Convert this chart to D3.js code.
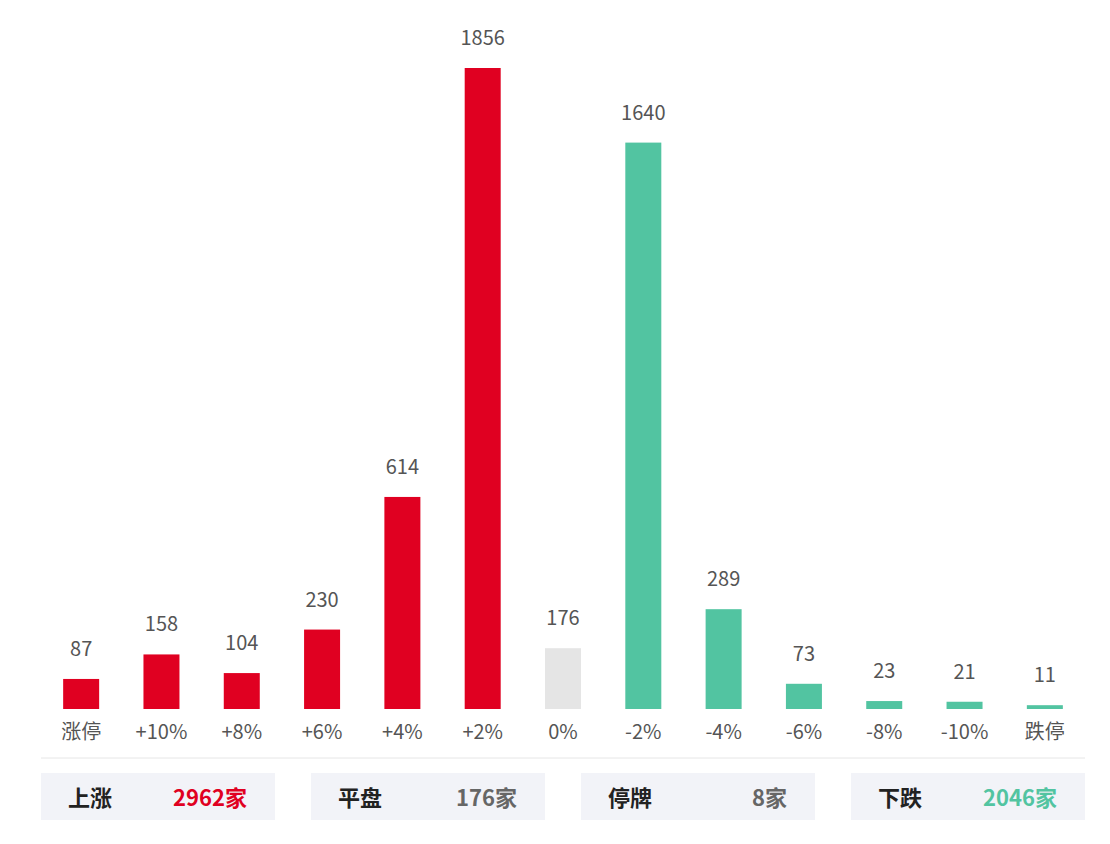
<!DOCTYPE html>
<html><head><meta charset="utf-8">
<script src="https://cdn.jsdelivr.net/npm/d3@7"></script>
<style>body{margin:0;background:#fff;font-family:"Noto Sans CJK SC","Noto Sans",sans-serif;}</style>
</head><body>
<svg id="chart" width="1110" height="844"></svg>
<script>
const categories = ["涨停", "+10%", "+8%", "+6%", "+4%", "+2%", "0%", "-2%", "-4%", "-6%", "-8%", "-10%", "跌停"];
const counts = [87, 158, 104, 230, 614, 1856, 176, 1640, 289, 73, 23, 21, 11];
const summaryLabels = ["上涨", "平盘", "停牌", "下跌"];
const summaryValues = ["2962家", "176家", "8家", "2046家"];

const red = "#e00021", green = "#52c4a1", grey = "#e5e5e5";
const summaryColors = [red, "#666", "#666", green];
const barColor = (i) => (i < 6 ? red : i === 6 ? grey : green);

const svg = d3.select("#chart");
const baseline = 709;

const x = d3.scalePoint().domain(categories).range([41, 1085]).padding(0.5);
const y = d3.scaleLinear().domain([0, 1856]).range([baseline, 68]);
const barW = 36;

// bars
svg.selectAll("rect.bar").data(counts).join("rect")
  .attr("class", "bar")
  .attr("x", (d, i) => x(categories[i]) - barW / 2)
  .attr("y", (d) => y(d))
  .attr("width", barW)
  .attr("height", (d) => baseline - y(d))
  .attr("fill", (d, i) => barColor(i));

// value labels
svg.selectAll("text.val").data(counts).join("text")
  .attr("x", (d, i) => x(categories[i]))
  .attr("y", (d) => y(d) - 23)
  .attr("text-anchor", "middle")
  .attr("font-size", 20)
  .attr("fill", "#555")
  .text((d) => d);

// category axis labels
svg.selectAll("text.cat").data(categories).join("text")
  .attr("x", (d) => x(d))
  .attr("y", 739)
  .attr("text-anchor", "middle")
  .attr("font-size", 20)
  .attr("fill", "#555")
  .text((d) => d);

// separator
svg.append("line").attr("x1", 41).attr("x2", 1085).attr("y1", 758).attr("y2", 758)
  .attr("stroke", "#e6e6e6");

// summary boxes
const boxX = d3.scaleBand().domain(summaryLabels).range([41, 1085]).paddingInner(36 / 270);
const box = svg.selectAll("g.box").data(summaryLabels).join("g")
  .attr("transform", (d) => `translate(${boxX(d)},773)`);
box.append("rect").attr("width", boxX.bandwidth()).attr("height", 47).attr("fill", "#f2f3f8");
box.append("text").attr("x", 27).attr("y", 33).attr("font-size", 22).attr("font-weight", "bold")
  .attr("fill", "#222").text((d) => d);
box.append("text").attr("x", 206).attr("y", 33).attr("text-anchor", "end")
  .attr("font-size", 22).attr("font-weight", "bold")
  .attr("fill", (d, i) => summaryColors[i]).text((d, i) => summaryValues[i]);
</script>
</body></html>
